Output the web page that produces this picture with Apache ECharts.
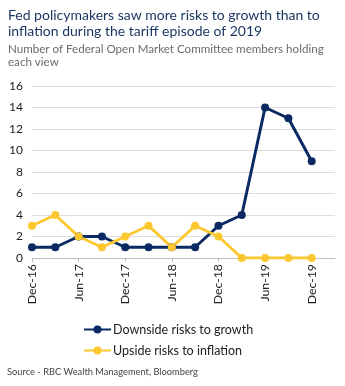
<!DOCTYPE html>
<html><head><meta charset="utf-8">
<script src="https://cdn.jsdelivr.net/npm/echarts@6/dist/echarts.min.js"></script>
<style>html,body{margin:0;padding:0;background:#fff}#c{width:345px;height:386px}</style>
</head><body><div id="c"></div>
<script>
const categories = ["Dec-16","Mar-17","Jun-17","Sep-17","Dec-17","Mar-18","Jun-18","Sep-18","Dec-18","Mar-19","Jun-19","Sep-19","Dec-19",""];
const growth = [1,1,2,2,1,1,1,1,3,4,14,13,9];
const inflation = [3,4,2,1,2,3,1,3,2,0,0,0,0];
const yTicks = {min:0, max:16, interval:2};
const navy = '#0b2a63', gold = '#fdc82f';
const font = 'Lato';
const chart = echarts.init(document.getElementById('c'), null, {renderer:'canvas'});
chart.setOption({
  animation:false,
  textStyle:{fontFamily:font},
  title:[
    {text:'Fed policymakers saw more risks to growth than to\ninflation during the tariff episode of 2019', left:8, top:7, padding:0,
     textStyle:{fontFamily:font, fontSize:14, fontWeight:'normal', color:'#17335f', lineHeight:16.5}},
    {text:'Number of Federal Open Market Committee members holding\neach view', left:8, top:42, padding:0,
     textStyle:{fontFamily:font, fontSize:11.6, fontWeight:'normal', color:'#6b6b6b', lineHeight:13.5}},
    {text:'Source - RBC Wealth Management, Bloomberg', left:7, top:367, padding:0,
     textStyle:{fontFamily:font, fontSize:9.3, fontWeight:'normal', color:'#444'}}
  ],
  legend:{orient:'vertical', left:83, top:323, padding:0, itemWidth:27, itemHeight:10, itemGap:8,
    textStyle:{fontFamily:font, fontSize:12.5, color:'#222', padding:[0,0,0,-3]},
    data:['Downside risks to growth','Upside risks to inflation']},
  grid:{left:32, right:10, top:86, bottom:128},
  xAxis:{type:'category', data:categories, boundaryGap:false,
    axisLine:{lineStyle:{color:'#bfbfbf', width:1}},
    axisTick:{show:true, interval:1, length:4, lineStyle:{color:'#bfbfbf'}},
    axisLabel:{interval:1, rotate:90, fontSize:12.3, color:'#222', fontFamily:font, margin:6}},
  yAxis:{type:'value', min:yTicks.min, max:yTicks.max, interval:yTicks.interval,
    axisLine:{show:false}, axisTick:{show:false},
    splitLine:{lineStyle:{color:'#dcdcdc', width:1}},
    axisLabel:{fontSize:12, color:'#222', fontFamily:font, margin:9}},
  series:[
    {name:'Downside risks to growth', type:'line', data:growth, color:navy,
     lineStyle:{width:3, color:navy}, symbol:'circle', symbolSize:8, itemStyle:{color:navy}},
    {name:'Upside risks to inflation', type:'line', data:inflation, color:gold,
     lineStyle:{width:3, color:gold}, symbol:'circle', symbolSize:8, itemStyle:{color:gold}}
  ]
});
</script></body></html>
